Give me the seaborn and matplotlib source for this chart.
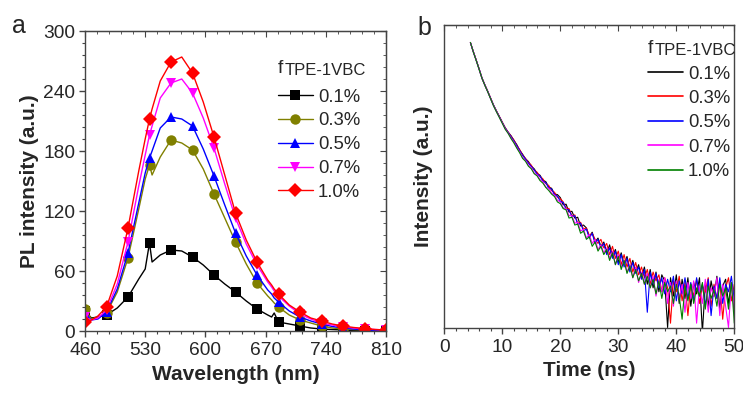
import matplotlib.pyplot as plt
import pandas as pd
import seaborn as sns
from matplotlib.lines import Line2D
from matplotlib.ticker import FixedLocator, MultipleLocator, NullLocator

sns.set_style("ticks")
plt.rcParams["font.family"] = ["Liberation Sans", "DejaVu Sans"]

conc = ["0.1%", "0.3%", "0.5%", "0.7%", "1.0%"]

# panel a: PL spectra
wavelength = [460, 467.5, 475, 485, 497.5, 510, 522.5, 530, 535, 538, 547.5, 560, 572.5, 585,
              597.5, 610, 622.5, 635, 647.5, 660, 672.5, 677, 680, 685, 697.5, 710, 722.5, 735,
              747.5, 760, 772.5, 785, 797.5, 810]
marker_wl = [460, 485, 510, 535, 560, 585, 610, 635, 660, 685, 710, 735, 760, 785, 810]
pl_01 = [20, 13, 14, 16, 23, 34, 52, 62, 88, 69, 76, 81, 80, 74, 66, 56, 47, 39, 30, 22, 16, 14,
         18, 9, 7, 5, 3, 2, 1.5, 1, 0.5, 0, 0, 0]
pl_03 = [22, 12, 14, 18, 39, 73, 122, 152, 166, 156, 174, 191, 188, 181, 162, 137, 113, 89, 67,
         48, 35, 31, 28, 24, 16, 11, 8, 5, 3, 2, 1.5, 1, 0.5, 0]
pl_05 = [17, 11, 12, 19, 42, 78, 128, 158, 173, 180, 203, 214, 212, 205, 182, 155, 126, 98, 75,
         56, 41, 37, 33, 29, 20, 14, 10, 7, 4.5, 3, 2, 1, 0.5, 0]
pl_07 = [14, 11, 13, 21, 47, 89, 145, 176, 196, 205, 233, 248, 252, 238, 213, 183, 147, 113, 87,
         66, 49, 44, 40, 35, 25, 17, 12, 8, 6, 4, 3, 2, 1.5, 1]
pl_10 = [9, 11, 15, 24, 55, 103, 160, 192, 212, 222, 250, 269, 274, 258, 229, 194, 156, 118, 91,
         69, 51, 46, 42, 37, 26, 19, 13, 10, 7, 5, 3.5, 2.5, 1.5, 1]

# panel b: decay curves (counts, log scale), 0.5 ns steps from 4.5 ns
time_ns = [4.5 + 0.5 * i for i in range(92)]
tr_01 = [5400, 4410, 3660, 3010, 2460, 2110, 1830, 1570, 1350, 1185, 1050, 925, 820, 745,
         690, 622, 566, 500, 458, 414, 390, 352, 332, 300, 288, 258, 250, 222, 216, 190, 188,
         176, 150, 152, 128, 130, 112, 114, 94, 96, 90, 74, 82, 66, 72, 60,
         66, 52, 62, 48, 56, 42, 52, 40, 48, 36, 44, 34, 40, 30, 38,
         26, 36, 24, 34, 22, 32, 28, 10, 30, 20, 32, 17, 29, 19, 30,
         16, 27, 21, 30, 9, 26, 16, 28, 20, 31, 15, 25, 29, 17, 27, 14]
tr_03 = [5400, 4420, 3670, 3015, 2465, 2115, 1835, 1575, 1352, 1190, 1052, 930, 822, 748,
         684, 628, 556, 508, 450, 418, 382, 360, 322, 308, 280, 266, 240, 230, 206, 198, 178,
         172, 160, 140, 138, 118, 120, 100, 102, 88, 90, 76, 80, 70, 64, 70,
         58, 64, 50, 60, 46, 54, 40, 50, 38, 46, 34, 42, 32, 38, 30,
         36, 26, 34, 28, 32, 22, 30, 24, 11, 28, 22, 31, 18, 27, 13,
         26, 20, 29, 17, 25, 22, 30, 16, 26, 19, 28, 12, 24, 30, 18, 26]
tr_05 = [5400, 4400, 3650, 3005, 2455, 2105, 1825, 1565, 1345, 1182, 1045, 922, 815, 742,
         676, 614, 552, 496, 446, 412, 376, 350, 324, 296, 282, 254, 244, 218, 212, 188, 182,
         162, 158, 136, 134, 116, 118, 98, 100, 84, 88, 72, 80, 64, 70, 58,
         64, 50, 58, 46, 54, 40, 50, 38, 46, 34, 42, 33, 38, 29, 36,
         14, 34, 26, 33, 24, 30, 21, 29, 22, 31, 18, 28, 21, 30, 19,
         27, 18, 30, 20, 26, 16, 29, 13, 25, 19, 30, 17, 26, 22, 31, 18]
tr_07 = [5400, 4390, 3640, 2990, 2445, 2095, 1815, 1552, 1335, 1172, 1034, 912, 802, 732,
         656, 596, 530, 482, 424, 398, 360, 340, 302, 292, 262, 250, 222, 216, 194, 186, 166,
         160, 140, 138, 118, 118, 100, 102, 84, 88, 72, 78, 64, 70, 56, 62,
         52, 58, 46, 54, 40, 50, 38, 44, 34, 40, 30, 38, 27, 34, 26,
         33, 24, 31, 20, 29, 22, 30, 17, 27, 16, 28, 19, 26, 14, 27,
         19, 28, 11, 25, 17, 29, 14, 24, 20, 30, 13, 26, 16, 10, 27, 15]
tr_10 = [5400, 4380, 3630, 2985, 2440, 2090, 1808, 1548, 1328, 1165, 1028, 905, 795, 726,
         648, 588, 524, 472, 418, 392, 352, 332, 298, 284, 256, 242, 220, 206, 190, 180, 160,
         154, 138, 134, 112, 114, 96, 98, 80, 84, 70, 74, 60, 66, 54, 60,
         50, 56, 44, 52, 40, 48, 36, 44, 33, 39, 30, 36, 28, 33, 26,
         31, 24, 29, 21, 28, 19, 27, 22, 25, 17, 26, 20, 12, 25, 18,
         26, 17, 24, 20, 27, 15, 25, 19, 23, 16, 26, 20, 24, 15, 27, 11]

colors_a = ["black", "#808000", "blue", "magenta", "red"]
markers_a = ["s", "o", "^", "v", "D"]
colors_b = ["black", "red", "blue", "magenta", "green"]

pl = pd.concat([pd.DataFrame({"wl": wavelength, "pl": v, "conc": c})
                for c, v in zip(conc, [pl_01, pl_03, pl_05, pl_07, pl_10])])
tr = pd.concat([pd.DataFrame({"t": time_ns, "I": v, "conc": c})
                for c, v in zip(conc, [tr_01, tr_03, tr_05, tr_07, tr_10])])
mark_idx = [wavelength.index(w) for w in marker_wl]

fig = plt.figure(figsize=(7.43, 3.94), dpi=100)
ax1 = fig.add_axes([85 / 743, 63 / 394, 301 / 743, 300 / 394])
ax2 = fig.add_axes([444.3 / 743, 66.5 / 394, 290 / 743, 302.5 / 394])

sns.lineplot(data=pl, x="wl", y="pl", hue="conc", style="conc", hue_order=conc,
             style_order=conc, palette=colors_a, markers=markers_a, dashes=False,
             estimator=None, sort=False, markevery=mark_idx, markersize=7.5, mew=0,
             linewidth=1, legend=False, ax=ax1)
sns.lineplot(data=tr, x="t", y="I", hue="conc", hue_order=conc, palette=colors_b,
             estimator=None, sort=False, linewidth=0.8, legend=False, ax=ax2)

spine_c = "#444444"
tick_fs = 13.8
label_fs = 15
for ax in (ax1, ax2):
    for s in ax.spines.values():
        s.set_visible(True)
        s.set_color(spine_c)
        s.set_linewidth(1)

x_major = list(range(460, 811, 70))
x_minor = list(range(460, 811, 14))
ax1.set_xlim(460, 810)
ax1.set_ylim(0, 300)
ax1.xaxis.set_major_locator(FixedLocator(x_major))
ax1.xaxis.set_minor_locator(FixedLocator(x_minor))
ax1.yaxis.set_major_locator(MultipleLocator(60))
ax1.yaxis.set_minor_locator(MultipleLocator(12))
ax1.tick_params(which="both", direction="out", color=spine_c, labelsize=tick_fs,
                top=False, right=False)
ax1.tick_params(which="major", length=4.5, width=1)
ax1.tick_params(axis="x", which="major", pad=3.5)
ax1.tick_params(axis="y", which="major", pad=2.5)
ax1.tick_params(which="minor", length=2.5, width=0.8)
ax1t = ax1.secondary_xaxis("top")
ax1t.xaxis.set_major_locator(FixedLocator(x_major))
ax1t.xaxis.set_minor_locator(FixedLocator(x_minor))
ax1t.tick_params(which="both", direction="in", labeltop=False, color=spine_c)
ax1t.tick_params(which="major", length=4)
ax1t.tick_params(which="minor", length=2.5)
ax1r = ax1.secondary_yaxis("right")
ax1r.yaxis.set_major_locator(MultipleLocator(60))
ax1r.yaxis.set_minor_locator(MultipleLocator(12))
ax1r.tick_params(which="both", direction="in", labelright=False, color=spine_c)
ax1r.tick_params(which="major", length=4)
ax1r.tick_params(which="minor", length=2.5)
ax1.set_xlabel("Wavelength (nm)", fontsize=label_fs, fontweight="bold", labelpad=4)
ax1.set_ylabel("PL intensity (a.u.)", fontsize=label_fs, fontweight="bold", labelpad=3)

ax2.set_yscale("log")
ax2.set_xlim(0, 50)
ax2.set_ylim(10, 7943)
ax2.yaxis.set_major_locator(NullLocator())
ax2.yaxis.set_minor_locator(NullLocator())
ax2.xaxis.set_major_locator(MultipleLocator(10))
ax2.xaxis.set_minor_locator(MultipleLocator(2))
ax2.tick_params(which="both", direction="out", color=spine_c, labelsize=tick_fs,
                top=False, right=False)
ax2.tick_params(which="major", length=4.5, width=1, pad=3.5)
ax2.tick_params(which="minor", length=2.5, width=0.8)
ax2t = ax2.secondary_xaxis("top")
ax2t.xaxis.set_major_locator(MultipleLocator(10))
ax2t.xaxis.set_minor_locator(MultipleLocator(2))
ax2t.tick_params(which="both", direction="in", labeltop=False, color=spine_c)
ax2t.tick_params(which="major", length=4)
ax2t.tick_params(which="minor", length=2.5)
ax2.set_xlabel("Time (ns)", fontsize=label_fs, fontweight="bold", labelpad=4)
ax2.set_ylabel("Intensity (a.u.)", fontsize=label_fs, fontweight="bold", labelpad=8)

# legends
h_a = [Line2D([], [], color=c, marker=m, markersize=7.5, mew=0, lw=1)
       for c, m in zip(colors_a, markers_a)]
ax1.legend(h_a, conc, loc="upper left", bbox_to_anchor=(0.641, 0.808), frameon=False,
           fontsize=13.3, handlelength=1.9, handletextpad=0.27, labelspacing=0.37,
           borderpad=0, borderaxespad=0)
h_b = [Line2D([], [], color=c, lw=1.2) for c in colors_b]
ax2.legend(h_b, conc, loc="upper left", bbox_to_anchor=(0.702, 0.866), frameon=False,
           fontsize=13.3, handlelength=1.9, handletextpad=0.27, labelspacing=0.4,
           borderpad=0, borderaxespad=0)

for fx, sx, fy, sy in [(278, 285, 73, 75), (648, 655, 53, 55)]:
    fig.text(fx / 743, 1 - fy / 394, "f", fontsize=14, va="baseline")
    fig.text(sx / 743, 1 - sy / 394, "TPE-1VBC", fontsize=12, va="baseline")

fig.text(12 / 743, 1 - 33 / 394, "a", fontsize=18, va="baseline")
fig.text(417 / 743, 1 - 35 / 394, "b", fontsize=18, va="baseline")

fig.savefig("out.png", dpi=100)
